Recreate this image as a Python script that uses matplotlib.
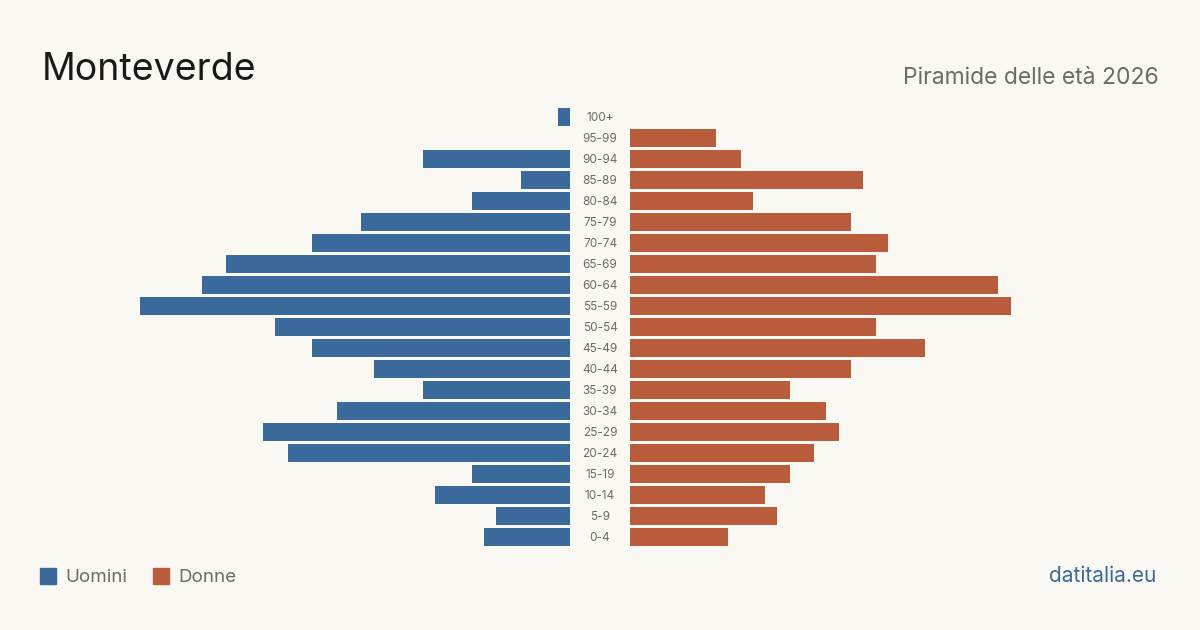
import matplotlib.pyplot as plt
from matplotlib.patches import Rectangle

# Piramide delle età - Monteverde 2026
age_groups = ['0-4', '5-9', '10-14', '15-19', '20-24', '25-29', '30-34', '35-39',
              '40-44', '45-49', '50-54', '55-59', '60-64', '65-69', '70-74',
              '75-79', '80-84', '85-89', '90-94', '95-99', '100+']
uomini = [7, 6, 11, 8, 23, 25, 19, 12, 16, 21, 24, 35, 30, 28, 21, 17, 8, 4, 12, 0, 1]
donne = [8, 12, 11, 13, 15, 17, 16, 13, 18, 24, 20, 31, 30, 20, 21, 18, 10, 19, 9, 7, 0]

BG = '#f9f8f3'
BLUE = '#3a6a9b'
ORANGE = '#b95c3c'
GRAY = '#6b6b6b'

plt.rcParams['font.family'] = ['Inter', 'DejaVu Sans']

W, H = 1200, 630
fig = plt.figure(figsize=(W / 100, H / 100), dpi=100, facecolor=BG)

# pixel geometry
unit = 12.28          # px per person
span = 36             # units shown on each side
row_top = 106.5
row_bot = 547.5
ax_h = (row_bot - row_top) / H
ax_y = (H - row_bot) / H
ax_w = span * unit / W

ax_l = fig.add_axes([(570 - span * unit) / W, ax_y, ax_w, ax_h])
ax_r = fig.add_axes([630 / W, ax_y, ax_w, ax_h])

pos = list(range(len(age_groups)))
ax_l.barh(pos, uomini, height=0.81, color=BLUE)
ax_r.barh(pos, donne, height=0.81, color=ORANGE)

ax_l.set_xlim(span, 0)
ax_r.set_xlim(0, span)
for ax in (ax_l, ax_r):
    ax.set_ylim(-0.5, len(age_groups) - 0.5)
    ax.axis('off')
    ax.set_facecolor('none')

# age labels in the middle column
for i, lab in enumerate(age_groups):
    y = 538 - 21 * i
    fig.text(600 / W, 1 - y / H, lab, ha='center', va='center',
             fontsize=8.5, color=GRAY)

# titles
fig.text(42 / W, 1 - 80 / H, 'Monteverde', fontsize=27, color='#1a1a1a',
         ha='left', va='baseline')
fig.text(1159 / W, 1 - 84 / H, 'Piramide delle età 2026', fontsize=16.5,
         color=GRAY, ha='right', va='baseline')

# legend
for x0, lab, col in [(40, 'Uomini', BLUE), (153, 'Donne', ORANGE)]:
    fig.patches.append(Rectangle((x0 / W, 1 - 584 / H), 16 / W, 16 / H,
                                 transform=fig.transFigure, color=col))
    fig.text((x0 + 25) / W, 1 - 582 / H, lab, fontsize=13.5, color=GRAY,
             ha='left', va='baseline')

fig.text(1156 / W, 1 - 582 / H, 'datitalia.eu', fontsize=15, color=BLUE,
         ha='right', va='baseline')

fig.savefig('out.png', dpi=100, facecolor=BG)
